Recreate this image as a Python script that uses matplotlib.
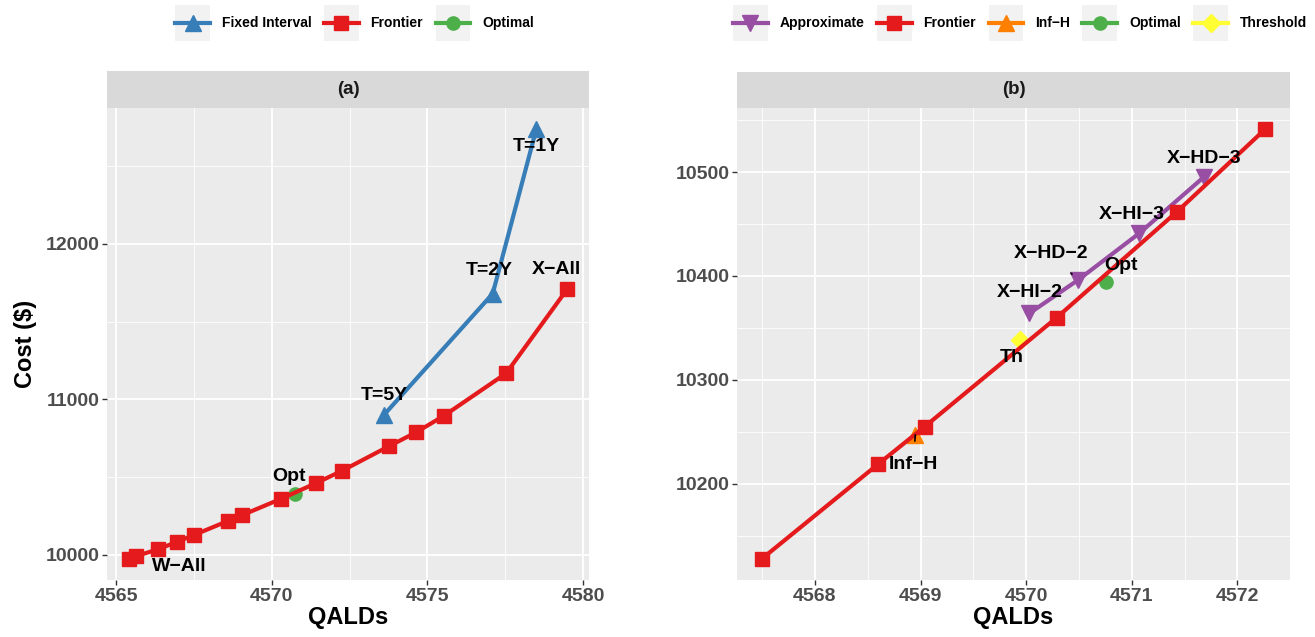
import matplotlib
matplotlib.use('Agg')
import matplotlib.pyplot as plt
from matplotlib.lines import Line2D
from matplotlib.patches import Rectangle
from matplotlib.legend_handler import HandlerLine2D
from matplotlib.ticker import MultipleLocator

plt.rcParams['font.family'] = ['Liberation Sans', 'DejaVu Sans']
plt.rcParams['font.weight'] = 'bold'
plt.rcParams['axes.labelweight'] = 'bold'

# panel (a) data
front_a_x = [4565.42, 4565.65, 4566.34, 4566.94, 4567.50, 4568.60, 4569.04, 4570.29,
             4571.43, 4572.26, 4573.76, 4574.63, 4575.53, 4577.53, 4579.49]
front_a_y = [9977, 9993, 10036, 10083, 10128, 10219, 10255, 10360,
             10462, 10541, 10698, 10787, 10894, 11167, 11707]
fixed_x = [4573.61, 4577.10, 4578.50]
fixed_y = [10901, 11679, 12736]
fixed_lab = ['T=5Y', 'T=2Y', 'T=1Y']
opt_x = 4570.76
opt_y = 10394

# panel (b) data
front_b_x = [4567.50, 4568.60, 4569.04, 4570.29, 4571.43, 4572.26]
front_b_y = [10128, 10219, 10255, 10360, 10462, 10541]
approx_x = [4570.03, 4570.49, 4571.07, 4571.68]
approx_y = [10364, 10396, 10441, 10495]
approx_lab = ['X\u2212HI\u22122', 'X\u2212HD\u22122', 'X\u2212HI\u22123', 'X\u2212HD\u22123']
infh_x = 4568.95
infh_y = 10247
th_x = 4569.94
th_y = 10338

RED = '#E41A1C'
BLUE = '#377EB8'
GREEN = '#4DAF4A'
PURPLE = '#984EA3'
ORANGE = '#FF7F00'
YELLOW = '#FFFF33'
LW = 3.0

fig = plt.figure(figsize=(13.15, 6.37), dpi=100)
W, H = 1315, 637


def panel(x0, x1, y_top, y_bot, title):
    ax = fig.add_axes([x0 / W, 1 - y_bot / H, (x1 - x0) / W, (y_bot - y_top) / H])
    strip = fig.add_axes([x0 / W, 1 - y_top / H, (x1 - x0) / W, 36.5 / H])
    strip.set_facecolor('#d9d9d9')
    strip.set_xticks([])
    strip.set_yticks([])
    for s in strip.spines.values():
        s.set_visible(False)
    strip.text(0.5, 0.5, title, ha='center', va='center', fontsize=13.5,
               color='#1a1a1a', transform=strip.transAxes)
    ax.set_facecolor('#ebebeb')
    for s in ax.spines.values():
        s.set_visible(False)
    ax.grid(which='major', color='white', lw=1.3)
    ax.grid(which='minor', color='white', lw=0.6)
    ax.set_axisbelow(True)
    ax.tick_params(which='major', length=3.5, width=1, color='#333333',
                   labelsize=14, labelcolor='#4d4d4d', pad=2)
    ax.tick_params(which='minor', length=0)
    ax.margins(0.05)
    ax.set_xlabel('QALDs', fontsize=17, labelpad=1)
    return ax


def lab(ax, x, y, s, dx, dy, seg=False):
    ax.annotate(s, (x, y), xytext=(dx, dy), textcoords='offset pixels',
                ha='center', va='center', fontsize=14, color='black', zorder=10,
                arrowprops=dict(arrowstyle='-', color='black', lw=1.2,
                                shrinkA=9, shrinkB=6) if seg else None)


# ---- panel (a)
ax1 = panel(107.3, 589, 107.7, 580, '(a)')
ax1.plot(fixed_x, fixed_y, color=BLUE, lw=LW, marker='^', ms=12, zorder=3)
ax1.plot(opt_x, opt_y, color=GREEN, marker='o', ms=9.5, ls='none', zorder=3)
ax1.plot(front_a_x, front_a_y, color=RED, lw=LW, marker='s', ms=9.5, zorder=4)
ax1.xaxis.set_major_locator(MultipleLocator(5))
ax1.xaxis.set_minor_locator(MultipleLocator(2.5))
ax1.yaxis.set_major_locator(MultipleLocator(1000))
ax1.yaxis.set_minor_locator(MultipleLocator(500))
ax1.set_ylabel('Cost ($)', fontsize=17, labelpad=6)

lab(ax1, front_a_x[0], front_a_y[0], 'W\u2212All', 50, -8)
lab(ax1, opt_x, opt_y, 'Opt', -6, 17)
lab(ax1, fixed_x[0], fixed_y[0], fixed_lab[0], 0, 19)
lab(ax1, fixed_x[1], fixed_y[1], fixed_lab[1], -3, 23)
lab(ax1, fixed_x[2], fixed_y[2], fixed_lab[2], 0, -17)
lab(ax1, front_a_x[-1], front_a_y[-1], 'X\u2212All', -11, 20)

# ---- panel (b)
ax2 = panel(737, 1290, 108, 580, '(b)')
ax2.plot(approx_x, approx_y, color=PURPLE, lw=LW, marker='v', ms=12, zorder=3)
ax2.plot(infh_x, infh_y, color=ORANGE, marker='^', ms=12, ls='none', zorder=3)
ax2.plot(opt_x, opt_y, color=GREEN, marker='o', ms=9.5, ls='none', zorder=3)
ax2.plot(th_x, th_y, color=YELLOW, marker='D', ms=9, ls='none', zorder=3)
ax2.plot(front_b_x, front_b_y, color=RED, lw=LW, marker='s', ms=9.5, zorder=4)
ax2.xaxis.set_major_locator(MultipleLocator(1))
ax2.xaxis.set_minor_locator(MultipleLocator(0.5))
ax2.yaxis.set_major_locator(MultipleLocator(100))
ax2.yaxis.set_minor_locator(MultipleLocator(50))

lab(ax2, approx_x[3], approx_y[3], approx_lab[3], 1, 19)
lab(ax2, approx_x[2], approx_y[2], approx_lab[2], -7, 19)
lab(ax2, approx_x[1], approx_y[1], approx_lab[1], -27, 27, seg=True)
lab(ax2, approx_x[0], approx_y[0], approx_lab[0], 0, 21)
lab(ax2, opt_x, opt_y, 'Opt', 15, 17)
lab(ax2, th_x, th_y, 'Th', -8, -17)
lab(ax2, infh_x, infh_y, 'Inf\u2212H', -2, -30, seg=True)


# ---- legends (grey key boxes like ggplot)
class KeyHandler(HandlerLine2D):
    def create_artists(self, legend, orig_handle, xdescent, ydescent,
                       width, height, fontsize, trans):
        bg = Rectangle((-xdescent, -ydescent), width, height,
                       facecolor='#f2f2f2', edgecolor='none', transform=trans)
        arts = super().create_artists(legend, orig_handle, xdescent, ydescent,
                                      width, height, fontsize, trans)
        yc = height / 2 - ydescent
        for a in arts:
            a.set_ydata([yc] * len(a.get_xdata()))
        return [bg] + list(arts)


def key(color, marker, ms):
    return Line2D([], [], color=color, lw=LW, marker=marker, ms=ms)


leg_kw = dict(handler_map={Line2D: KeyHandler()}, numpoints=1,
              frameon=False, fontsize=10, handlelength=2.5, handleheight=3.6,
              handletextpad=0.85, columnspacing=0.9, borderpad=0, loc='center')

fig.legend([key(BLUE, '^', 12), key(RED, 's', 9.5), key(GREEN, 'o', 9.5)],
           ['Fixed Interval', 'Frontier', 'Optimal'], ncol=3,
           bbox_to_anchor=(354.5 / W, 1 - 23 / H), **leg_kw)
fig.legend([key(PURPLE, 'v', 12), key(RED, 's', 9.5), key(ORANGE, '^', 12),
            key(GREEN, 'o', 9.5), key(YELLOW, 'D', 9)],
           ['Approximate', 'Frontier', 'Inf\u2212H', 'Optimal', 'Threshold'], ncol=5,
           bbox_to_anchor=(1020 / W, 1 - 23 / H), **leg_kw)

fig.savefig('out.png', dpi=100)
